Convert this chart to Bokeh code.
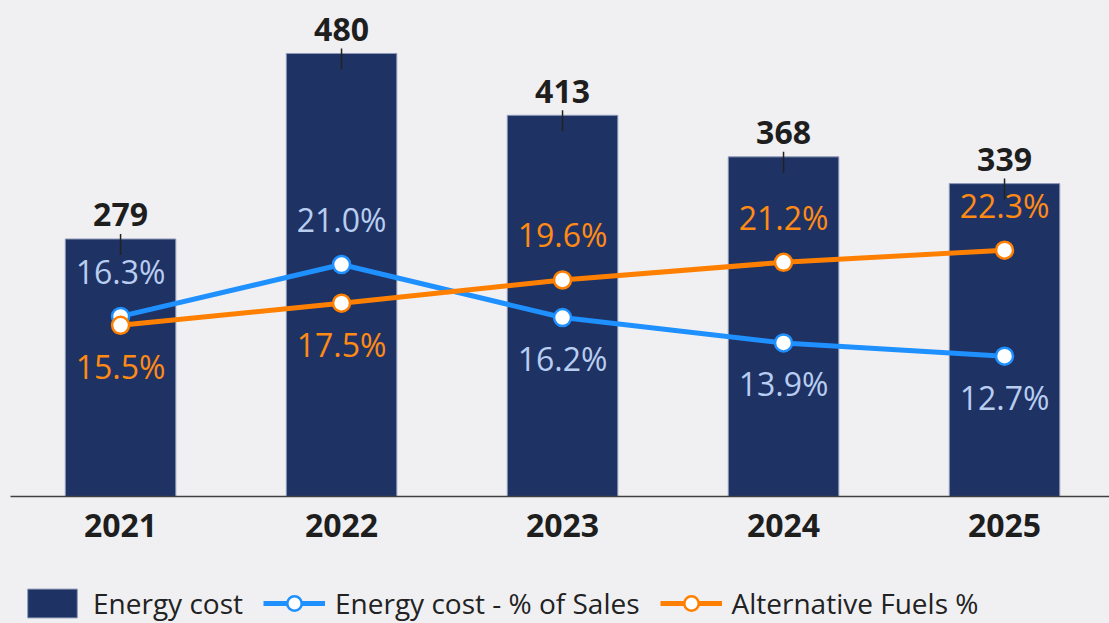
from bokeh.plotting import figure
from bokeh.models import Range1d, FixedTicker, Legend, LegendItem, ColumnDataSource
from bokeh.layouts import column
from bokeh.core.properties import value
from bokeh.embed import file_html
from bokeh.resources import INLINE

# ---- data ----
years = ["2021", "2022", "2023", "2024", "2025"]
energy_cost = [279, 480, 413, 368, 339]
energy_pct_sales = [16.3, 21.0, 16.2, 13.9, 12.7]
alt_fuels_pct = [15.5, 17.5, 19.6, 21.2, 22.3]
series_names = ["Energy cost", "Energy cost - % of Sales", "Alternative Fuels %"]

# ---- style ----
BG = "#f0f0f2"
NAVY = "#1e3264"
BLUE = "#1e90ff"
ORANGE = "#ff8000"
BLUE_TXT = "#b8cdf0"
ORANGE_TXT = "#ff8a14"
DARK = "#1e1e1e"
FONT = "Open Sans"

W = 1109
H1, H2 = 570, 53
FRAME_H = 496
Y_MAX = 537.4
PCT_MAX = 44.9
k = FRAME_H / Y_MAX  # px per unit

xs = list(range(len(years)))

p = figure(width=W, height=H1, output_backend="svg", toolbar_location=None,
           x_range=Range1d(-0.498, 4.475), y_range=Range1d(0, Y_MAX),
           y_axis_location=None, min_border_left=10, min_border_right=0,
           min_border_top=0, min_border_bottom=H1 - FRAME_H)
p.extra_y_ranges = {"pct": Range1d(0, PCT_MAX)}
p.background_fill_color = BG
p.border_fill_color = BG
p.outline_line_color = None
p.grid.visible = False

xa = p.xaxis[0]
xa.ticker = FixedTicker(ticks=xs)
xa.major_label_overrides = {i: y for i, y in zip(xs, years)}
xa.major_tick_line_color = None
xa.minor_tick_line_color = None
xa.major_tick_out = 0
xa.major_label_standoff = 17
xa.axis_line_color = "#404040"
xa.axis_line_width = 1.5
xa.major_label_text_font = FONT
xa.major_label_text_font_style = "bold"
xa.major_label_text_font_size = "32px"
xa.major_label_text_color = DARK

src = ColumnDataSource(dict(x=xs, cost=energy_cost, blue=energy_pct_sales, orange=alt_fuels_pct,
                            cost_txt=[str(v) for v in energy_cost],
                            blue_txt=[f"{v:.1f}%" for v in energy_pct_sales],
                            orange_txt=[f"{v:.1f}%" for v in alt_fuels_pct],
                            blue_off=[-45 if b > o else 41 for b, o in zip(energy_pct_sales, alt_fuels_pct)],
                            orange_off=[-45 if o > b else 41 for b, o in zip(energy_pct_sales, alt_fuels_pct)],
                            lead0=[v + 5 / k for v in energy_cost],
                            lead1=[v - 16 / k for v in energy_cost]))

bar_style = dict(fill_color=NAVY, line_color="#8e9ab8", line_width=1)
blue_line_style = dict(line_color=BLUE, line_width=5)
orange_line_style = dict(line_color=ORANGE, line_width=5)
blue_pt_style = dict(size=17, fill_color="white", line_color=BLUE, line_width=2.5)
orange_pt_style = dict(size=17, fill_color="white", line_color=ORANGE, line_width=2.5)

p.vbar(x="x", top="cost", width=0.5, source=src, **bar_style)
p.segment(x0="x", x1="x", y0="lead0", y1="lead1", source=src, line_color="#222222", line_width=1.5)
p.text(x="x", y="cost", text="cost_txt", source=src, text_align="center", text_baseline="alphabetic",
       y_offset=-24, text_font=value(FONT), text_font_style="bold", text_font_size="32px", text_color=DARK)

p.line(x="x", y="blue", source=src, y_range_name="pct", **blue_line_style)
p.line(x="x", y="orange", source=src, y_range_name="pct", **orange_line_style)
p.scatter(x="x", y="blue", source=src, y_range_name="pct", **blue_pt_style)
p.scatter(x="x", y="orange", source=src, y_range_name="pct", **orange_pt_style)

p.text(x="x", y="blue", text="blue_txt", source=src, y_range_name="pct", text_align="center",
       text_baseline="alphabetic", y_offset="blue_off", text_font=value(FONT),
       text_font_size="32px", text_color=BLUE_TXT)
p.text(x="x", y="orange", text="orange_txt", source=src, y_range_name="pct", text_align="center",
       text_baseline="alphabetic", y_offset="orange_off", text_font=value(FONT),
       text_font_size="32px", text_color=ORANGE_TXT)

# ---- legend strip: same series & styles, renderers hidden, only the legend shows ----
lg = figure(width=W, height=H2, output_backend="svg", toolbar_location=None,
            x_axis_location=None, y_axis_location=None,
            x_range=Range1d(-0.498, 4.475), y_range=Range1d(0, Y_MAX),
            min_border_left=0, min_border_right=0, min_border_top=0, min_border_bottom=0)
lg.extra_y_ranges = {"pct": Range1d(0, PCT_MAX)}
lg.background_fill_color = BG
lg.border_fill_color = BG
lg.outline_line_color = None
lg.grid.visible = False

r_bar = lg.vbar(x="x", top="cost", width=0.5, source=src, visible=False, **bar_style)
r_bl = lg.line(x="x", y="blue", source=src, y_range_name="pct", visible=False, **blue_line_style)
r_bs = lg.scatter(x="x", y="blue", source=src, y_range_name="pct", visible=False, **blue_pt_style)
r_ol = lg.line(x="x", y="orange", source=src, y_range_name="pct", visible=False, **orange_line_style)
r_os = lg.scatter(x="x", y="orange", source=src, y_range_name="pct", visible=False, **orange_pt_style)

legend = Legend(items=[LegendItem(label=series_names[0], renderers=[r_bar]),
                       LegendItem(label=series_names[1], renderers=[r_bl, r_bs]),
                       LegendItem(label=series_names[2], renderers=[r_ol, r_os])],
                orientation="horizontal", location=(11, 1), glyph_width=62, glyph_height=36,
                label_standoff=10, spacing=20, padding=0, margin=0,
                background_fill_alpha=0, border_line_alpha=0,
                inactive_fill_alpha=0, click_policy="none",
                label_text_font=FONT, label_text_font_size="28px", label_text_color="#222222")
lg.add_layout(legend, "center")

layout = column(p, lg, spacing=0, styles={"background-color": BG})
open("out.html", "w").write(file_html(layout, INLINE))
